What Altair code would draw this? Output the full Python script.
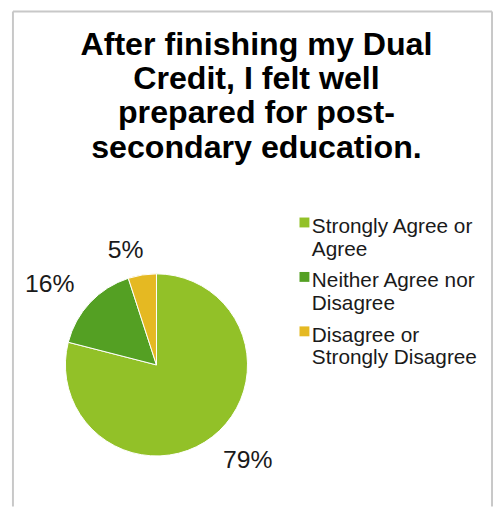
import altair as alt
import pandas as pd

categories = ["Strongly Agree or Agree", "Neither Agree nor Disagree", "Disagree or Strongly Disagree"]
values = [79, 16, 5]
pct_labels = ["79%", "16%", "5%"]
legend_lines = [["Strongly Agree or", "Agree"], ["Neither Agree nor", "Disagree"], ["Disagree or", "Strongly Disagree"]]
colors = ["#92C128", "#54A023", "#E5B922"]
title_lines = ["After finishing my Dual", "Credit, I felt well", "prepared for post-", "secondary education."]

df = pd.DataFrame({"category": categories, "value": values, "label": pct_labels, "idx": list(range(len(categories)))})

expr = "datum.label"
for cat, lines in reversed(list(zip(categories, legend_lines))):
    arr = "[" + ",".join("'" + l + "'" for l in lines) + "]"
    expr = f"datum.label == '{cat}' ? {arr} : ({expr})"

W, H = 490, 500
CX, CY = 150, 357
R = 92
FONT = "Liberation Sans"

pie = alt.Chart(df).mark_arc(radius=R, x=CX, y=CY, stroke="white", strokeWidth=1).encode(
    theta=alt.Theta("value:Q", stack=True),
    order=alt.Order("idx:O"),
    color=alt.Color(
        "category:N",
        scale=alt.Scale(domain=categories, range=colors),
        legend=alt.Legend(
            title=None,
            orient="none",
            legendX=286,
            legendY=196,
            symbolType="M-0.4,0.32H1.6V2.32H-0.4Z",
            symbolSize=100,
            symbolStrokeWidth=0,
            labelFont=FONT,
            labelFontSize=21,
            labelColor="#1a1a1a",
            labelBaseline="top",
            labelOffset=0,
            labelLimit=300,
            rowPadding=-2,
            padding=0,
            labelExpr=expr,
        ),
    ),
)

# label placement: just outside the pie edge, like an "outside end" data label
text = alt.Chart(df).transform_joinaggregate(
    total="sum(value)"
).transform_window(
    cum="sum(value)", sort=[alt.SortField("idx")]
).transform_calculate(
    mid="(datum.cum - datum.value / 2) / datum.total * 2 * PI - 0.105",
).transform_calculate(
    r=f"{R} + 14 + 10 * length(datum.label) * abs(sin(datum.mid)) + 9 * abs(cos(datum.mid))",
).mark_text(x=CX, y=CY, font=FONT, fontSize=25, color="#1a1a1a").encode(
    theta=alt.Theta("mid:Q", scale=None),
    radius=alt.Radius("r:Q", scale=None),
    text="label:N",
)

frame_data = alt.Data(values=[{"a": 1}])
frame_left = alt.Chart(frame_data).mark_rule(color="#c8c8c8", strokeWidth=2).encode(
    x=alt.value(5), y=alt.value(0), y2=alt.value(H))
frame_top = alt.Chart(frame_data).mark_rule(color="#c8c8c8", strokeWidth=2).encode(
    x=alt.value(5), x2=alt.value(489), y=alt.value(0))
frame_right = alt.Chart(frame_data).mark_rule(color="#c8c8c8", strokeWidth=2).encode(
    x=alt.value(489), y=alt.value(0), y2=alt.value(H))

chart = alt.layer(frame_left, frame_top, frame_right, pie, text).resolve_scale(
    theta="independent", radius="independent"
).properties(
    width=W,
    height=H,
    padding=0,
    title=alt.TitleParams(
        text=title_lines,
        font=FONT,
        fontSize=32.5,
        fontWeight="bold",
        color="#000000",
        lineHeight=34.5,
        anchor="middle",
        frame="group",
        orient="top",
        offset=-155,
        dx=6,
    ),
).configure_view(stroke=None)

chart.save("out.html", embed_options={"renderer": "svg", "actions": False})
